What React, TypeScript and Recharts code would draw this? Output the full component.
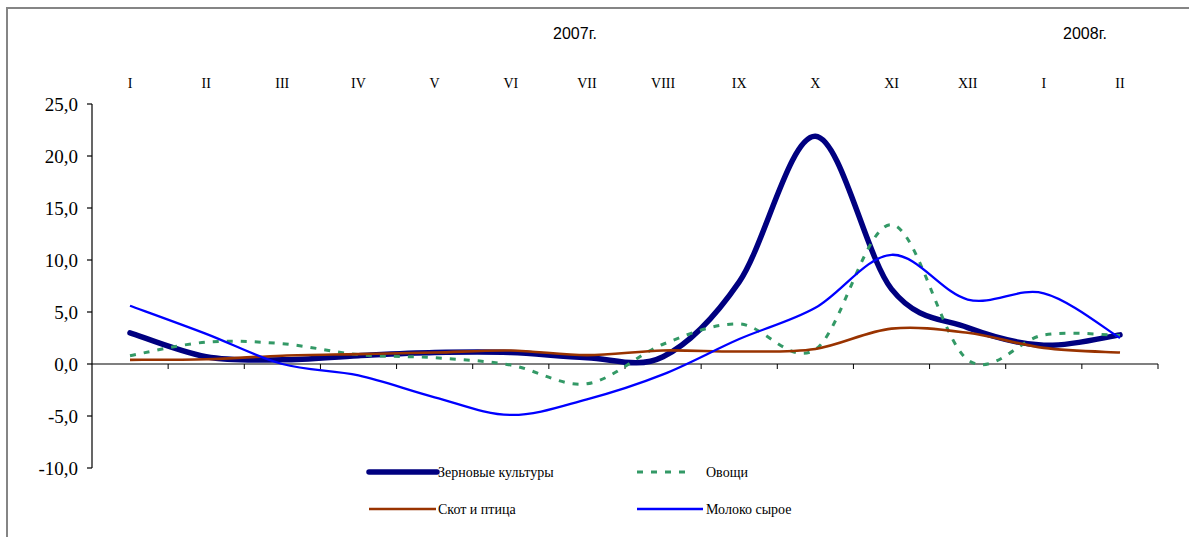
import React from 'react';
import { LineChart, Line, XAxis, YAxis, ReferenceLine } from 'recharts';

// ---- data ----
const months = ['I', 'II', 'III', 'IV', 'V', 'VI', 'VII', 'VIII', 'IX', 'X', 'XI', 'XII', 'I', 'II'];
const grain = [3.0, 0.7, 0.4, 0.8, 1.1, 1.1, 0.6, 0.7, 7.9, 21.9, 7.2, 3.5, 1.8, 2.8];
const vegetables = [0.8, 2.1, 1.95, 0.9, 0.6, -0.1, -1.9, 1.9, 3.85, 1.4, 13.4, 0.4, 2.8, 2.75];
const livestock = [0.4, 0.45, 0.8, 0.95, 1.1, 1.3, 0.85, 1.3, 1.2, 1.45, 3.4, 3.0, 1.55, 1.1];
const milk = [5.6, 2.9, 0.0, -1.1, -3.2, -4.9, -3.4, -1.0, 2.4, 5.4, 10.5, 6.2, 6.8, 2.5];
const yTicks = [-10, -5, 0, 5, 10, 15, 20, 25];
const yearLabels = [
  { text: '2007г.', x: 575 },
  { text: '2008г.', x: 1085 },
];

const series = [
  { key: 'grain', name: 'Зерновые культуры', color: '#000080', width: 5.5, dash: undefined as string | undefined, cap: 'round' },
  { key: 'veg', name: 'Овощи', color: '#339966', width: 3, dash: '6 8', cap: 'butt' },
  { key: 'live', name: 'Скот и птица', color: '#993300', width: 2.6, dash: undefined, cap: 'butt' },
  { key: 'milk', name: 'Молоко сырое', color: '#0000FF', width: 2.3, dash: undefined, cap: 'butt' },
];

const data = months.map((m, i) => ({
  idx: i,
  m,
  grain: grain[i],
  veg: vegetables[i],
  live: livestock[i],
  milk: milk[i],
}));

const SERIF = "'Liberation Serif', 'Times New Roman', 'DejaVu Serif', serif";
const SANS = "'Liberation Sans', Arial, sans-serif";

// Excel-like smoothed line (Catmull-Rom through the points)
function excelSmooth(context: any) {
  let xs: number[] = [];
  let ys: number[] = [];
  return {
    areaStart() {},
    areaEnd() {},
    lineStart() {
      xs = [];
      ys = [];
    },
    point(x: number, y: number) {
      xs.push(+x);
      ys.push(+y);
    },
    lineEnd() {
      const n = xs.length;
      if (!n) return;
      context.moveTo(xs[0], ys[0]);
      if (n === 1) return;
      for (let i = 0; i < n - 1; i++) {
        const i0 = Math.max(i - 1, 0);
        const i3 = Math.min(i + 2, n - 1);
        const x0 = xs[i0], y0 = ys[i0];
        const x1 = xs[i], y1 = ys[i];
        const x2 = xs[i + 1], y2 = ys[i + 1];
        const x3 = xs[i3], y3 = ys[i3];
        context.bezierCurveTo(
          x1 + (x2 - x0) / 6,
          y1 + (y2 - y0) / 6,
          x2 - (x3 - x1) / 6,
          y2 - (y3 - y1) / 6,
          x2,
          y2,
        );
      }
    },
  };
}

const ZeroAxis = (props: any) => {
  const { x1, y1, x2 } = props;
  const n = months.length;
  const lo = Math.min(x1, x2);
  const s = Math.abs(x2 - x1) / n;
  const ticks = [];
  for (let k = 1; k <= n; k++) {
    const x = lo + k * s;
    ticks.push(<line key={k} x1={x} x2={x} y1={y1} y2={y1 + 5} stroke="#000" strokeWidth={1} />);
  }
  return (
    <g>
      <line x1={x1} x2={x2} y1={y1} y2={y1} stroke="#000" strokeWidth={1.2} />
      {ticks}
    </g>
  );
};

const legendPos = [
  { lx1: 369, lx2: 437, tx: 438, y: 472 },
  { lx1: 637, lx2: 693, tx: 706, y: 472 },
  { lx1: 369, lx2: 436, tx: 438, y: 509 },
  { lx1: 637, lx2: 703, tx: 706, y: 509 },
];

export default function App() {
  return (
    <div style={{ position: 'absolute', left: 0, top: 0, width: 1189, height: 537, background: '#fff', overflow: 'hidden', fontFamily: SERIF }}>
      <div
        style={{
          position: 'absolute',
          left: 6,
          top: 7,
          width: 1200,
          height: 560,
          borderTop: '2px solid #858585',
          borderLeft: '2px solid #858585',
          boxSizing: 'border-box',
        }}
      />
      <div style={{ position: 'absolute', left: 0, top: 0 }}>
        <LineChart width={1189} height={537} data={data} margin={{ top: 74, right: 31, bottom: 69, left: 0 }} style={{ fontFamily: SERIF }}>
          <XAxis
            dataKey="idx"
            orientation="top"
            height={30}
            padding={{ left: 38, right: 38 }}
            axisLine={false}
            tickLine={false}
            tickSize={0}
            tickMargin={16}
            interval={0}
            tickFormatter={(i: number) => months[i]}
            tick={{ style: { fontFamily: SERIF }, fontSize: 14, fill: '#000' }}
          />
          <YAxis
            width={92}
            domain={[-10, 25]}
            ticks={yTicks}
            interval={0}
            allowDataOverflow
            tickFormatter={(v: number) => v.toFixed(1).replace('.', ',')}
            axisLine={{ stroke: '#000', strokeWidth: 1.2 }}
            tickLine={{ stroke: '#000', strokeWidth: 1.2 }}
            tickSize={5}
            tickMargin={9}
            tick={{ style: { fontFamily: SERIF }, fontSize: 19, fill: '#000' }}
          />
          <ReferenceLine y={0} shape={ZeroAxis} />
          {series.map((s) => (
            <Line
              key={s.key}
              dataKey={s.key}
              name={s.name}
              type={excelSmooth as any}
              stroke={s.color}
              strokeWidth={s.width}
              strokeDasharray={s.dash}
              strokeLinecap={s.cap as any}
              strokeLinejoin="round"
              dot={false}
              activeDot={false}
              isAnimationActive={false}
            />
          ))}
        </LineChart>
      </div>
      <svg width={1189} height={537} style={{ position: 'absolute', left: 0, top: 0, pointerEvents: 'none' }}>
        {yearLabels.map((y) => (
          <text key={y.text} x={y.x} y={33} textAnchor="middle" dominantBaseline="central" style={{ fontFamily: SANS }} fontSize={16} fill="#000">
            {y.text}
          </text>
        ))}
        {series.map((s, i) => {
          const p = legendPos[i];
          return (
            <g key={s.key}>
              <line
                x1={p.lx1}
                x2={p.lx2}
                y1={p.y}
                y2={p.y}
                stroke={s.color}
                strokeWidth={s.width}
                strokeDasharray={s.dash}
                strokeLinecap={s.cap as any}
              />
              <text x={p.tx} y={p.y} dominantBaseline="central" style={{ fontFamily: SERIF }} fontSize={14} fill="#000">
                {s.name}
              </text>
            </g>
          );
        })}
      </svg>
    </div>
  );
}
